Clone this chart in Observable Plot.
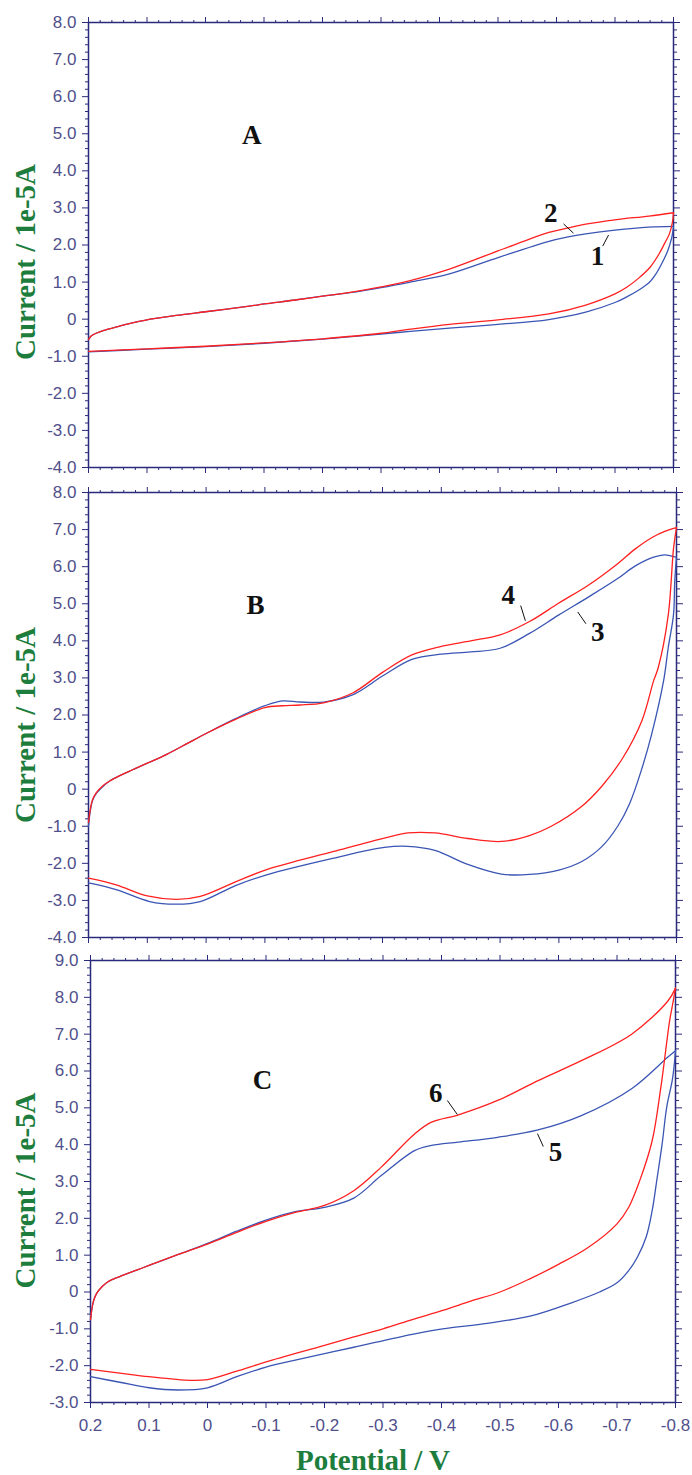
<!DOCTYPE html>
<html>
<head>
<meta charset="utf-8">
<script src="https://cdn.jsdelivr.net/npm/d3@7"></script>
<script src="https://cdn.jsdelivr.net/npm/@observablehq/plot@0.6"></script>
<style>
  html, body { margin: 0; padding: 0; background: #fff; }
  #chart { width: 692px; }
  #chart svg { display: block; }
</style>
</head>
<body>
<div id="chart"></div>
<script>
// ---------- tick labels ----------
const xTicks = [0.2, 0.1, 0, -0.1, -0.2, -0.3, -0.4, -0.5, -0.6, -0.7, -0.8];
const yTicksAB = [-4, -3, -2, -1, 0, 1, 2, 3, 4, 5, 6, 7, 8];
const yTicksC = [-3, -2, -1, 0, 1, 2, 3, 4, 5, 6, 7, 8, 9];

// ---------- Panel A (curves 1 blue, 2 red) ----------
const A_fwdE = [0.2, 0.195, 0.187, 0.175, 0.15, 0.125, 0.104, 0.05, 0, -0.075, -0.1, -0.15, -0.2, -0.25, -0.3, -0.35, -0.417, -0.5, -0.587, -0.62, -0.65, -0.7, -0.758, -0.8];
const A1_fwd = [-0.55, -0.45, -0.38, -0.31, -0.2, -0.1, -0.03, 0.1, 0.2, 0.35, 0.41, 0.51, 0.62, 0.72, 0.85, 1.0, 1.22, 1.66, 2.1, 2.22, 2.3, 2.4, 2.48, 2.5];
const A2_fwd = [-0.55, -0.45, -0.38, -0.31, -0.2, -0.1, -0.03, 0.1, 0.2, 0.35, 0.41, 0.51, 0.62, 0.73, 0.87, 1.04, 1.35, 1.84, 2.34, 2.46, 2.56, 2.68, 2.78, 2.87];
const A1_revE = [-0.8, -0.797, -0.79, -0.78, -0.77, -0.758, -0.74, -0.72, -0.7, -0.65, -0.587, -0.5, -0.417, -0.35, -0.3, -0.2, -0.1, 0, 0.1, 0.2];
const A1_rev = [2.5, 2.2, 1.84, 1.5, 1.22, 0.98, 0.78, 0.6, 0.45, 0.19, -0.01, -0.14, -0.24, -0.33, -0.4, -0.54, -0.65, -0.74, -0.81, -0.88];
const A2_revE = [-0.8, -0.798, -0.793, -0.785, -0.775, -0.76, -0.74, -0.72, -0.7, -0.65, -0.587, -0.5, -0.417, -0.35, -0.3, -0.2, -0.1, 0, 0.1, 0.2];
const A2_rev = [2.87, 2.6, 2.3, 2.05, 1.75, 1.4, 1.1, 0.86, 0.68, 0.38, 0.14, -0.02, -0.14, -0.27, -0.38, -0.53, -0.64, -0.73, -0.8, -0.87];

// ---------- Panel B (curves 3 blue, 4 red) ----------
const B_fwdE = [0.2, 0.197, 0.193, 0.187, 0.175, 0.164, 0.145, 0.124, 0.1, 0.067, 0.03, 0, -0.05, -0.1, -0.13, -0.16, -0.2, -0.25, -0.3, -0.35, -0.4, -0.45, -0.5, -0.55, -0.6, -0.65, -0.7, -0.73, -0.76, -0.78, -0.8];
const B3_fwd = [-1.0, -0.6, -0.3, -0.12, 0.08, 0.22, 0.38, 0.53, 0.7, 0.94, 1.25, 1.5, 1.9, 2.25, 2.38, 2.35, 2.35, 2.55, 3.05, 3.5, 3.64, 3.7, 3.8, 4.2, 4.7, 5.18, 5.68, 6.02, 6.25, 6.32, 6.25];
const B4_fwd = [-0.9, -0.55, -0.28, -0.1, 0.1, 0.22, 0.38, 0.53, 0.7, 0.94, 1.25, 1.5, 1.88, 2.2, 2.25, 2.27, 2.33, 2.6, 3.15, 3.62, 3.85, 4.0, 4.16, 4.52, 5.02, 5.5, 6.08, 6.48, 6.8, 6.95, 7.05];
const B3_revE = [-0.8, -0.797, -0.795, -0.786, -0.778, -0.758, -0.74, -0.72, -0.7, -0.673, -0.639, -0.6, -0.55, -0.502, -0.445, -0.389, -0.343, -0.303, -0.217, -0.103, -0.05, 0.01, 0.05, 0.096, 0.153, 0.2];
const B3_rev = [6.25, 5.6, 4.72, 3.82, 2.92, 1.5, 0.5, -0.4, -1.0, -1.55, -1.95, -2.18, -2.3, -2.29, -2.03, -1.65, -1.54, -1.57, -1.86, -2.31, -2.6, -3.03, -3.1, -3.03, -2.71, -2.53];
const B4_revE = [-0.8, -0.795, -0.786, -0.769, -0.761, -0.741, -0.707, -0.673, -0.639, -0.587, -0.55, -0.502, -0.445, -0.389, -0.343, -0.303, -0.217, -0.103, -0.05, 0.01, 0.05, 0.1, 0.153, 0.2];
const B4_rev = [7.05, 6.5, 4.7, 3.28, 2.92, 1.84, 0.8, 0.08, -0.46, -1.0, -1.25, -1.41, -1.33, -1.18, -1.18, -1.32, -1.68, -2.17, -2.5, -2.89, -2.97, -2.88, -2.58, -2.4];

// ---------- Panel C (curves 5 blue, 6 red) ----------
const C_fwdE = [0.2, 0.198, 0.195, 0.19, 0.18, 0.17, 0.15, 0.12, 0.1, 0.05, 0, -0.05, -0.1, -0.15, -0.2, -0.25, -0.297, -0.354, -0.383, -0.429, -0.496, -0.565, -0.639, -0.725, -0.787, -0.8];
const C5_fwd = [-0.75, -0.5, -0.25, -0.05, 0.15, 0.28, 0.42, 0.6, 0.72, 1.02, 1.32, 1.65, 1.95, 2.18, 2.3, 2.55, 3.16, 3.84, 3.98, 4.07, 4.2, 4.4, 4.79, 5.52, 6.38, 6.55];
const C6_fwd = [-0.75, -0.5, -0.25, -0.05, 0.15, 0.28, 0.42, 0.6, 0.72, 1.02, 1.3, 1.62, 1.92, 2.16, 2.35, 2.75, 3.39, 4.29, 4.61, 4.81, 5.2, 5.74, 6.28, 7.0, 7.9, 8.25];
const C5_revE = [-0.8, -0.795, -0.785, -0.777, -0.768, -0.76, -0.75, -0.735, -0.72, -0.7, -0.67, -0.621, -0.553, -0.478, -0.402, -0.35, -0.25, -0.15, -0.1, -0.05, 0, 0.051, 0.1, 0.15, 0.2];
const C5_rev = [6.55, 5.8, 5.02, 4.0, 3.03, 2.2, 1.5, 0.95, 0.58, 0.25, 0.0, -0.3, -0.65, -0.85, -1.0, -1.15, -1.5, -1.85, -2.04, -2.3, -2.6, -2.66, -2.6, -2.45, -2.3];
const C6_revE = [-0.8, -0.795, -0.79, -0.775, -0.76, -0.739, -0.72, -0.7, -0.65, -0.6, -0.55, -0.5, -0.45, -0.402, -0.35, -0.3, -0.25, -0.2, -0.1, -0.05, 0, 0.029, 0.1, 0.15, 0.2];
const C6_rev = [8.25, 7.8, 7.37, 5.56, 4.1, 3.03, 2.3, 1.85, 1.2, 0.75, 0.35, 0.0, -0.25, -0.5, -0.75, -1.0, -1.22, -1.45, -1.9, -2.15, -2.38, -2.4, -2.3, -2.2, -2.1];

// ---------- annotations (data units) ----------
const panelLetters = ["A", "B", "C"];
const letterE = [-0.079, -0.084, -0.094];
const letterI = [4.97, 4.97, 5.74];
const curveNames = ["1", "2", "3", "4", "5", "6"];
const nameE = [-0.670, -0.590, -0.666, -0.514, -0.595, -0.390];
const nameI = [1.70, 2.84, 4.22, 5.22, 3.79, 5.39];
const leadE1 = [-0.679, -0.612, -0.632, -0.535, -0.564, -0.410];
const leadI1 = [1.97, 2.57, 4.78, 4.95, 4.30, 5.20];
const leadE2 = [-0.689, -0.629, -0.646, -0.543, -0.574, -0.427];
const leadI2 = [2.27, 2.32, 4.46, 4.54, 3.95, 4.82];

const yTitle = "Current / 1e-5A";
const xTitle = "Potential / V";

// ---------- styles ----------
const RED = "#ff2020";
const BLUE = "#3a55b4";
const AXIS = "#2a2a7c";
const LABEL = "#50508c";
const GREEN = "#1d7d3d";

const fmt = d => Math.abs(d) < 1e-9 ? "0" : d.toFixed(1);
const rows = (E, I) => E.map((e, i) => ({E: e, I: I[i]}));
const xMinor = d3.range(-40, 11).filter(i => i % 5 !== 0).map(i => i / 50);
const minorOf = ticks => d3.range(d3.min(ticks) * 5, d3.max(ticks) * 5 + 1).filter(i => i % 5 !== 0).map(i => i / 5);

function panel(cfg) {
  const {yDomain, yTicks, height, mt, mb, ml, mr, curves, idx, letterIdx, showX, titleDy} = cfg;
  const yMinor = minorOf(yTicks);
  const lab = idx.map(i => ({E: nameE[i], I: nameI[i], t: curveNames[i]}));
  const lead = idx.map(i => ({x1: leadE1[i], y1: leadI1[i], x2: leadE2[i], y2: leadI2[i]}));
  const marks = [
    Plot.frame({stroke: AXIS, strokeWidth: 1.5}),
    Plot.axisY(yTicks, {anchor: "left", tickSize: 6, tickPadding: 6, tickFormat: fmt, stroke: AXIS, fill: LABEL, label: null, fontSize: 17}),
    Plot.axisY(yMinor, {anchor: "left", tickSize: 3, stroke: AXIS, fill: "none", label: null}),
    Plot.axisY(yTicks, {anchor: "right", tickSize: 6, stroke: AXIS, fill: "none", label: null}),
    Plot.axisY(yMinor, {anchor: "right", tickSize: 3, stroke: AXIS, fill: "none", label: null}),
    Plot.axisX(xTicks, {anchor: "top", tickSize: 6, stroke: AXIS, fill: "none", label: null}),
    Plot.axisX(xMinor, {anchor: "top", tickSize: 3, stroke: AXIS, fill: "none", label: null}),
    showX
      ? Plot.axisX(xTicks, {anchor: "bottom", tickSize: 6, tickPadding: 10, tickFormat: fmt, stroke: AXIS, fill: LABEL, label: null, fontSize: 17})
      : Plot.axisX(xTicks, {anchor: "bottom", tickSize: 6, stroke: AXIS, fill: "none", label: null}),
    Plot.axisX(xMinor, {anchor: "bottom", tickSize: 3, stroke: AXIS, fill: "none", label: null}),
    ...curves.map(c => Plot.line(rows(c.E, c.I), {x: "E", y: "I", stroke: c.color, strokeWidth: 1.3, curve: "catmull-rom"})),
    Plot.link(lead, {x1: "x1", y1: "y1", x2: "x2", y2: "y2", stroke: "#111", strokeWidth: 1}),
    Plot.text(lab, {x: "E", y: "I", text: "t", fontFamily: "Liberation Serif", fontWeight: "bold", fontSize: 27, fill: "#111"}),
    Plot.text([panelLetters[letterIdx]], {x: () => letterE[letterIdx], y: () => letterI[letterIdx], text: d => d, fontFamily: "Liberation Serif", fontWeight: "bold", fontSize: 27, fill: "#111"}),
    Plot.text([yTitle], {frameAnchor: "left", text: d => d, rotate: -90, textAnchor: "middle", lineAnchor: "middle", dx: 25 - ml, dy: titleDy, fontFamily: "Liberation Serif", fontWeight: "bold", fontSize: 29, fill: GREEN})
  ];
  if (showX) {
    marks.push(Plot.text([xTitle], {frameAnchor: "bottom", text: d => d, textAnchor: "middle", lineAnchor: "middle", dx: -10, dy: 58, fontFamily: "Liberation Serif", fontWeight: "bold", fontSize: 29, fill: GREEN}));
  }
  return Plot.plot({
    width: 692, height,
    marginTop: mt, marginBottom: mb, marginLeft: ml, marginRight: mr,
    x: {domain: [0.2, -0.8]},
    y: {domain: yDomain},
    style: {fontFamily: "Liberation Sans", fontSize: "17px", background: "white", color: LABEL, overflow: "visible"},
    marks
  });
}

const chart = document.getElementById("chart");
chart.append(panel({
  yDomain: [-4, 8], yTicks: yTicksAB, height: 480, mt: 22, mb: 13, ml: 88, mr: 19,
  curves: [
    {E: A_fwdE, I: A1_fwd, color: BLUE}, {E: A1_revE, I: A1_rev, color: BLUE},
    {E: A_fwdE, I: A2_fwd, color: RED}, {E: A2_revE, I: A2_rev, color: RED}
  ],
  idx: [0, 1], letterIdx: 0, showX: false, titleDy: 17
}));
chart.append(panel({
  yDomain: [-4, 8], yTicks: yTicksAB, height: 468, mt: 12, mb: 11, ml: 88, mr: 16,
  curves: [
    {E: B_fwdE, I: B3_fwd, color: BLUE}, {E: B3_revE, I: B3_rev, color: BLUE},
    {E: B_fwdE, I: B4_fwd, color: RED}, {E: B4_revE, I: B4_rev, color: RED}
  ],
  idx: [2, 3], letterIdx: 1, showX: false, titleDy: 10
}));
chart.append(panel({
  yDomain: [-3, 9], yTicks: yTicksC, height: 527, mt: 12, mb: 73, ml: 90, mr: 17,
  curves: [
    {E: C_fwdE, I: C5_fwd, color: BLUE}, {E: C5_revE, I: C5_rev, color: BLUE},
    {E: C_fwdE, I: C6_fwd, color: RED}, {E: C6_revE, I: C6_rev, color: RED}
  ],
  idx: [4, 5], letterIdx: 2, showX: true, titleDy: 9
}));
</script>
</body>
</html>
